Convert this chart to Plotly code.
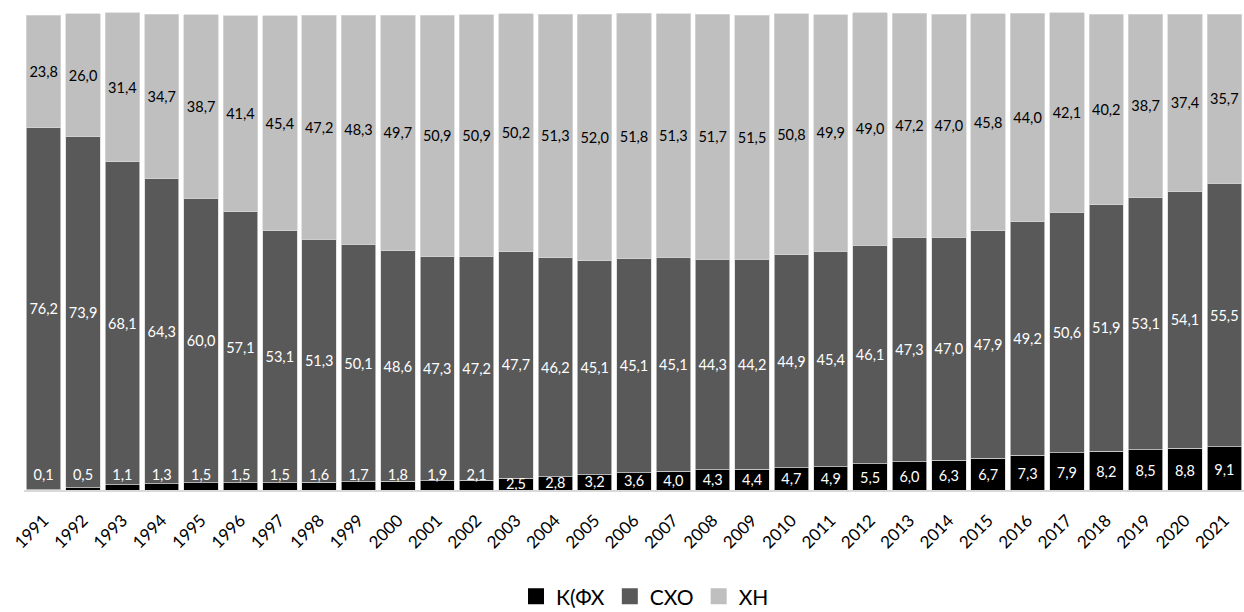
import plotly.graph_objects as go

years = [str(y) for y in range(1991, 2022)]
k_fh = [0.1, 0.5, 1.1, 1.3, 1.5, 1.5, 1.5, 1.6, 1.7, 1.8, 1.9, 2.1, 2.5, 2.8, 3.2, 3.6,
        4.0, 4.3, 4.4, 4.7, 4.9, 5.5, 6.0, 6.3, 6.7, 7.3, 7.9, 8.2, 8.5, 8.8, 9.1]
sxo = [76.2, 73.9, 68.1, 64.3, 60.0, 57.1, 53.1, 51.3, 50.1, 48.6, 47.3, 47.2, 47.7, 46.2,
       45.1, 45.1, 45.1, 44.3, 44.2, 44.9, 45.4, 46.1, 47.3, 47.0, 47.9, 49.2, 50.6, 51.9,
       53.1, 54.1, 55.5]
xn = [23.8, 26.0, 31.4, 34.7, 38.7, 41.4, 45.4, 47.2, 48.3, 49.7, 50.9, 50.9, 50.2, 51.3,
      52.0, 51.8, 51.3, 51.7, 51.5, 50.8, 49.9, 49.0, 47.2, 47.0, 45.8, 44.0, 42.1, 40.2,
      38.7, 37.4, 35.7]
names = ["К(ФХ", "СХО", "ХН"]
colors = ["#000000", "#595959", "#bfbfbf"]

FONT = "Lato"


def fmt(v):
    return f"{v:.1f}".replace(".", ",")


fig = go.Figure()
line = dict(color="#d9d9d9", width=0.7)

fig.add_trace(go.Bar(x=years, y=k_fh, name=names[0], marker=dict(color=colors[0], line=line),
                     hoverinfo="skip", showlegend=False))
fig.add_trace(go.Bar(x=years, y=sxo, name=names[1], marker=dict(color=colors[1], line=line),
                     text=[fmt(v) for v in sxo], textposition="inside",
                     insidetextanchor="middle", textangle=0,
                     textfont=dict(color="#ffffff", size=14.5, family=FONT), hoverinfo="skip",
                     showlegend=False))
fig.add_trace(go.Bar(x=years, y=xn, name=names[2], marker=dict(color=colors[2], line=line),
                     text=[fmt(v) for v in xn], textposition="inside",
                     insidetextanchor="middle", textangle=0,
                     textfont=dict(color="#000000", size=14.5, family=FONT), hoverinfo="skip",
                     showlegend=False))

# labels for the small black segments
k_label_y = [2.8 if v < 2.3 else v / 2 * 0.85 for v in k_fh]
fig.add_trace(go.Scatter(x=years, y=k_label_y, mode="text", text=[fmt(v) for v in k_fh],
                         textfont=dict(color="#ffffff", size=14.5, family=FONT),
                         textposition="middle center", showlegend=False, hoverinfo="skip",
                         cliponaxis=False))

# legend entries with larger square swatches
for n, c in zip(names, colors):
    fig.add_trace(go.Scatter(x=[None], y=[None], mode="markers", name=n,
                             marker=dict(symbol="square", size=16, color=c),
                             hoverinfo="skip"))

fig.update_layout(
    width=1244, height=612,
    barmode="stack", bargap=0.125,
    plot_bgcolor="white", paper_bgcolor="white",
    margin=dict(l=24, r=0, t=0, b=122, autoexpand=False),
    font=dict(family=FONT, color="#000000"),
    uniformtext=dict(minsize=14.5, mode="show"),
    showlegend=True,
    legend=dict(orientation="h", xref="container", yref="container",
                x=0.5185, xanchor="center", y=0.025, yanchor="middle",
                font=dict(size=21, family=FONT), traceorder="normal", itemwidth=30,
                tracegroupgap=0),
    xaxis=dict(type="category", range=[-0.5, 30.5], tickangle=-45, automargin=False,
               tickfont=dict(size=17, family=FONT, color="#000000"),
               ticklabelstandoff=12,
               showline=True, linecolor="#d9d9d9", linewidth=1.5, ticks="",
               showgrid=False, fixedrange=True),
    yaxis=dict(range=[0, 103.27], visible=False, showgrid=False, fixedrange=True,
               automargin=False),
)

fig.write_html("out.html", config={"displayModeBar": False},
               post_script="document.body.style.margin='0';document.body.style.overflow='hidden';")
